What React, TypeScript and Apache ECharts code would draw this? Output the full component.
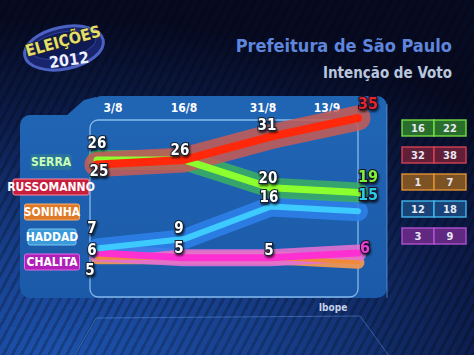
import React, { useEffect, useRef } from "react";
import * as echarts from "echarts";

// ---- data ----
const dates = ["3/8", "16/8", "31/8", "13/9"];
const candidates = ["SERRA", "RUSSOMANNO", "SONINHA", "HADDAD", "CHALITA"];
const serra = [26, 26, 20, 19];
const russomanno = [25, 26, 31, 35];
const soninha = [5, 5, 5, 4];
const haddad = [7, 9, 16, 15];
const chalita = [6, 5, 5, 6];
const rangeLow = [16, 32, 1, 12, 3];
const rangeHigh = [22, 38, 7, 18, 9];
const titleText = "Prefeitura de São Paulo";
const subtitleText = "Intenção de Voto";
const sourceText = "Ibope";
const logoWord = "ELEIÇÕES";
const logoYear = "2012";

const valuesByName: Record<string, number[]> = {
  SERRA: serra,
  RUSSOMANNO: russomanno,
  SONINHA: soninha,
  HADDAD: haddad,
  CHALITA: chalita,
};

const FONT = '"DejaVu Sans Condensed","Liberation Sans Narrow","DejaVu Sans",sans-serif';

type Sty = {
  halo: string; haloW: number; core: string; coreW: number; end: string;
  tagFill: string; tagStroke: string; tagText: string;
  boxFill: string; boxStroke: string;
  labels: (null | [number, number])[];
};

const styles: Record<string, Sty> = {
  SERRA: {
    halo: "rgba(58,176,98,0.85)", haloW: 20, core: "#8cff2e", coreW: 7, end: "#7df23a",
    tagFill: "rgba(80,170,95,0.25)", tagStroke: "rgba(0,0,0,0)", tagText: "#c8ffb4",
    boxFill: "#2e7a2c", boxStroke: "#78e046",
    labels: [[0, -17], [-4, -10], [-3, -10], [10, -16]],
  },
  RUSSOMANNO: {
    halo: "rgba(200,92,84,0.85)", haloW: 25, core: "#ff280a", coreW: 8, end: "#e8242a",
    tagFill: "#c81e3e", tagStroke: "#ff8a9a", tagText: "#ffffff",
    boxFill: "#6c2038", boxStroke: "#d84456",
    labels: [[2, 6], null, [-4, -12], [10, -15]],
  },
  SONINHA: {
    halo: "rgba(236,150,84,0.95)", haloW: 13, core: "#f08a3a", coreW: 4, end: "#f08a3a",
    tagFill: "#e07a28", tagStroke: "#f7b070", tagText: "#ffffff",
    boxFill: "#8a5a22", boxStroke: "#e39432",
    labels: [[-7, 12], null, null, null],
  },
  HADDAD: {
    halo: "rgba(46,128,232,0.9)", haloW: 20, core: "#3ccaff", coreW: 6, end: "#2ccbe6",
    tagFill: "#3a9ada", tagStroke: "#7cc6f2", tagText: "#ffffff",
    boxFill: "#19497f", boxStroke: "#44b8f0",
    labels: [[-5, -20], [-5, -11], [-2, -9], [10, -17]],
  },
  CHALITA: {
    halo: "rgba(228,112,212,0.9)", haloW: 17, core: "#ff30d2", coreW: 7, end: "#e640d4",
    tagFill: "#b020b8", tagStroke: "#e468e6", tagText: "#ffffff",
    boxFill: "#6a2a88", boxStroke: "#b452d2",
    labels: [[-5, -3], [-5, -10], [-2, -8], [7, -6]],
  },
};

const drawOrder = ["SONINHA", "CHALITA", "HADDAD", "SERRA", "RUSSOMANNO"];

// date label horizontal nudges (style)
const dateShift = [16, 0, -8, -31];

function buildOption() {
  const series: any[] = [];
  drawOrder.forEach((name) => {
    const s = styles[name];
    const vals = valuesByName[name];
    series.push({
      type: "line",
      name: name + "-halo",
      data: vals,
      showSymbol: false,
      symbol: "none",
      clip: false,
      silent: true,
      lineStyle: { color: s.halo, width: s.haloW, cap: "round", join: "round" },
      z: 2,
    });
    series.push({
      type: "line",
      name,
      data: vals.map((v, i) => {
        const l = s.labels[i];
        const last = i === vals.length - 1;
        return {
          value: v,
          label: l
            ? {
                show: true,
                position: "inside",
                offset: l,
                color: last ? s.end : "#ffffff",
                fontFamily: FONT,
                fontWeight: "bold",
                fontSize: last ? 16 : 15,
                textBorderColor: last ? "#1a1020" : "#14202e",
                textBorderWidth: 2,
                textShadowColor: "rgba(0,0,0,0.7)",
                textShadowBlur: 2,
                textShadowOffsetX: 1,
                textShadowOffsetY: 2,
              }
            : { show: false },
        };
      }),
      symbol: "circle",
      symbolSize: 1,
      showSymbol: true,
      clip: false,
      itemStyle: { color: "rgba(0,0,0,0)" },
      lineStyle: { color: s.core, width: s.coreW, cap: "round", join: "round" },
      z: 3,
    });
  });

  const elements: any[] = [];
  // decorative trapezoid
  elements.push({
    type: "polygon",
    shape: { points: [[72, 360], [96, 318], [360, 316], [392, 360]] },
    style: { fill: "rgba(40,90,180,0.08)", stroke: "rgba(120,170,240,0.4)", lineWidth: 1 },
    z: -5,
  });
  // outer panel
  const panelFill = new echarts.graphic.LinearGradient(0, 0, 0, 1, [
    { offset: 0, color: "#2064b4" },
    { offset: 1, color: "#1b5aa8" },
  ]);
  elements.push({ type: "rect", shape: { x: 20, y: 115, width: 367, height: 183, r: 10 }, style: { fill: panelFill }, z: -4 });
  elements.push({ type: "rect", shape: { x: 90, y: 96, width: 297, height: 40, r: [12, 10, 0, 0] }, style: { fill: "#2064b4" }, z: -4 });
  elements.push({ type: "polygon", shape: { points: [[66, 116], [84, 100], [96, 97], [100, 116]] }, style: { fill: "#2064b4" }, z: -4 });
  elements.push({ type: "line", shape: { x1: 387, y1: 104, x2: 387, y2: 298 }, style: { stroke: "rgba(130,190,250,0.55)", lineWidth: 1 }, z: -3 });
  // inner frame
  elements.push({
    type: "rect",
    shape: { x: 90, y: 120, width: 268, height: 177, r: 8 },
    style: { fill: "rgba(0,0,0,0)", stroke: "rgba(170,215,255,0.75)", lineWidth: 1.3 },
    z: -2,
  });

  // logo
  elements.push({
    type: "group", x: 64, y: 48, rotation: 0.2, z: 5,
    children: [
      { type: "ellipse", shape: { cx: 0, cy: 0, rx: 40, ry: 21 }, style: { fill: "#18246c", stroke: "#4b62c4", lineWidth: 3 } },
      { type: "ellipse", shape: { cx: 0, cy: -3, rx: 33, ry: 13 }, style: { fill: "#101a52", stroke: "#2c3e98", lineWidth: 1 } },
    ],
  });
  elements.push({
    type: "text", x: 63, y: 41, rotation: 0.27, z: 6,
    style: { text: logoWord, fill: "#e4df6a", fontFamily: FONT, fontWeight: "bold", fontSize: 16, align: "center", verticalAlign: "middle", stroke: "#2a2a10", lineWidth: 1 },
  });
  elements.push({
    type: "text", x: 69, y: 60, rotation: 0.14, z: 6,
    style: { text: logoYear, fill: "#eef0ff", fontFamily: FONT, fontWeight: "bold", fontSize: 16, align: "center", verticalAlign: "middle" },
  });

  // titles
  elements.push({
    type: "text", x: 452, y: 45, z: 6,
    style: { text: titleText, fill: "#5f86dc", fontFamily: FONT, fontWeight: "bold", fontSize: 18, align: "right", verticalAlign: "middle" },
  });
  elements.push({
    type: "text", x: 452, y: 73, z: 6,
    style: { text: subtitleText, fill: "#b9c6de", fontFamily: FONT, fontWeight: "bold", fontSize: 15, align: "right", verticalAlign: "middle" },
  });
  elements.push({
    type: "text", x: 333, y: 307, z: 6,
    style: { text: sourceText, fill: "#c4d2ea", fontFamily: FONT, fontWeight: "bold", fontSize: 10, align: "center", verticalAlign: "middle" },
  });

  // name tags
  const tagY = [162, 187, 212, 237, 262];
  const tagCx = [51, 51, 52, 52, 52];
  candidates.forEach((name, i) => {
    const s = styles[name];
    const w = name.length * 7 + 6;
    elements.push({
      type: "group", x: tagCx[i], y: tagY[i], z: 10,
      children: [
        { type: "rect", shape: { x: -w / 2, y: -8, width: w, height: 16, r: 2 }, style: { fill: s.tagFill, stroke: s.tagStroke, lineWidth: 1 } },
        { type: "text", x: 0, y: 0, style: { text: name, fill: s.tagText, fontFamily: FONT, fontWeight: "bold", fontSize: 12, align: "center", verticalAlign: "middle" } },
      ],
    });
  });

  // margin-of-error boxes
  const boxOrder = ["SERRA", "RUSSOMANNO", "SONINHA", "HADDAD", "CHALITA"];
  const rowY = [128, 155, 182, 209, 236];
  boxOrder.forEach((name, i) => {
    const s = styles[name];
    [rangeLow[i], rangeHigh[i]].forEach((v, j) => {
      const x0 = j === 0 ? 402 : 434;
      elements.push({
        type: "group", x: x0, y: rowY[i], z: 6,
        children: [
          { type: "rect", shape: { x: 0, y: -8, width: 32, height: 16 }, style: { fill: s.boxFill, stroke: s.boxStroke, lineWidth: 1.5, opacity: 0.9 } },
          { type: "text", x: 16, y: 0, style: { text: String(v), fill: "#e6e8f2", fontFamily: FONT, fontWeight: "bold", fontSize: 11, align: "center", verticalAlign: "middle" } },
        ],
      });
    });
  });

  const rich: any = {};
  dateShift.forEach((sh, i) => {
    rich["d" + i] = {
      color: "#ffffff",
      fontFamily: FONT,
      fontWeight: "bold",
      fontSize: 12,
      padding: sh >= 0 ? [0, 0, 0, sh * 2] : [0, -sh * 2, 0, 0],
    };
  });

  return {
    animation: false,
    backgroundColor: "transparent",
    grid: { left: 97, right: 116, top: 118, bottom: 74 },
    xAxis: {
      type: "category",
      data: dates,
      boundaryGap: false,
      position: "top",
      axisLine: { show: false },
      axisTick: { show: false },
      splitLine: { show: false },
      axisLabel: {
        margin: 4,
        formatter: (v: string, i: number) => `{d${i}|${v}}`,
        rich,
      },
    },
    yAxis: { type: "value", min: 0, max: 35, show: false },
    series,
    graphic: { elements },
  };
}

export default function App() {
  const ref = useRef<HTMLDivElement>(null);
  useEffect(() => {
    if (!ref.current) return;
    const chart = echarts.init(ref.current, undefined, { renderer: "svg" });
    chart.setOption(buildOption() as any);
    return () => chart.dispose();
  }, []);
  return (
    <div
      style={{
        position: "absolute",
        left: 0,
        top: 0,
        width: 474,
        height: 355,
        background:
          "repeating-linear-gradient(118deg, rgba(0,0,0,0.22) 0px, rgba(0,0,0,0.22) 3px, rgba(0,0,0,0) 3px, rgba(0,0,0,0) 8px), radial-gradient(130% 95% at 12% 100%, #1d52ad 0%, #163c86 35%, #0c1c4a 70%, #060b22 100%)",
      }}
    >
      <div ref={ref} style={{ width: 474, height: 355 }} />
    </div>
  );
}
